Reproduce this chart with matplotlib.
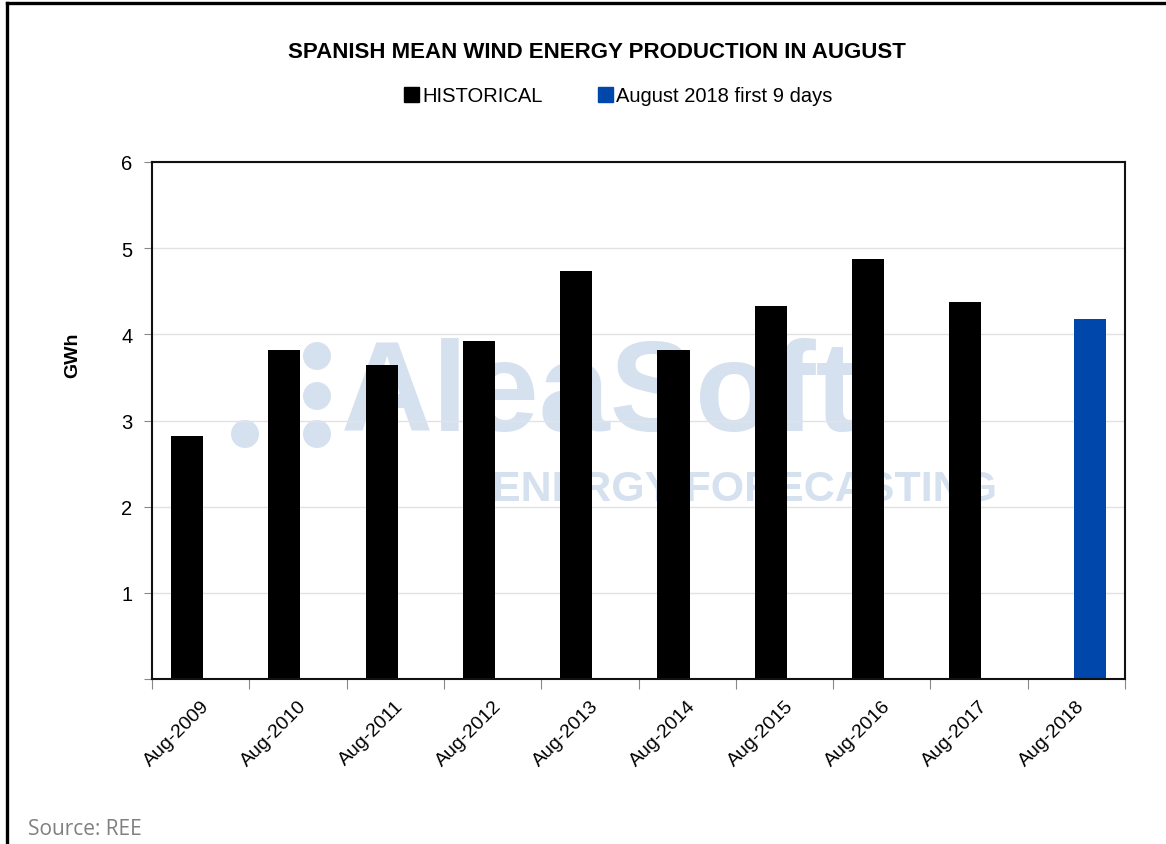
import matplotlib
matplotlib.use("Agg")
import matplotlib.pyplot as plt
from matplotlib.patches import Patch, Ellipse
from matplotlib.lines import Line2D

plt.rcParams["font.family"] = ["Liberation Sans", "DejaVu Sans"]

# data (GWh)
months = ["Aug-2009", "Aug-2010", "Aug-2011", "Aug-2012", "Aug-2013",
          "Aug-2014", "Aug-2015", "Aug-2016", "Aug-2017", "Aug-2018"]
historical = [2.82, 3.82, 3.64, 3.92, 4.73, 3.82, 4.33, 4.87, 4.38, None]
aug2018 = [None, None, None, None, None, None, None, None, None, 4.18]

C_HIST = "#000000"
C_2018 = "#0047AB"
W = 1166
H = 845

fig = plt.figure(figsize=(W / 100, H / 100), dpi=100)
ax = fig.add_axes([152 / W, 1 - 680 / H, (1125 - 152) / W, (680 - 163) / H])

# watermark behind everything
wm = "#d6e1ef"
ax.text(600 / W, 1 - 398 / H, "AleaSoft", transform=fig.transFigure,
        ha="center", va="center", fontsize=92, fontweight="bold",
        color=wm, zorder=0.2)
ax.text(745 / W, 1 - 490 / H, "ENERGY FORECASTING", transform=fig.transFigure,
        ha="center", va="center", fontsize=31, fontweight="bold",
        color=wm, zorder=0.2)
for px, py in [(317, 357), (317, 397), (317, 435), (245, 435)]:
    ax.add_patch(Ellipse((px / W, 1 - py / H), 28 / W, 28 / H,
                         transform=fig.transFigure, color=wm, lw=0,
                         zorder=0.2))

x = list(range(len(months)))
off = 0.14
bw = 0.33
xs_h = [i - off for i, v in zip(x, historical) if v is not None]
ys_h = [v for v in historical if v is not None]
xs_b = [i + off for i, v in zip(x, aug2018) if v is not None]
ys_b = [v for v in aug2018 if v is not None]
ax.bar(xs_h, ys_h, width=bw, color=C_HIST, zorder=2)
ax.bar(xs_b, ys_b, width=bw, color=C_2018, zorder=2)

ax.set_xlim(-0.5, len(months) - 0.5)
ax.set_ylim(0, 6)
ax.set_yticks(range(0, 7))
ax.set_yticklabels([""] + [str(i) for i in range(1, 7)], fontsize=14.5)
ax.tick_params(axis="y", length=6, width=0.8, color="#888888", pad=8)
ax.set_xticks(x)
ax.set_xticklabels(months, rotation=45, ha="right", rotation_mode="anchor",
                   fontsize=14)
ax.tick_params(axis="x", length=0, pad=13)
ax.set_xticks([i - 0.5 for i in range(len(months) + 1)], minor=True)
ax.tick_params(axis="x", which="minor", length=7, width=0.8, color="#888888")

ax.set_axisbelow(True)
ax.yaxis.grid(True, color="#e2e2e2", lw=1, zorder=0.5)
for s in ax.spines.values():
    s.set_linewidth(1.5)
    s.set_color("#111111")

fig.text(73 / W, 1 - 355 / H, "GWh", rotation=90, ha="center", va="center",
         fontsize=14, fontweight="bold")

fig.text(597 / W, 1 - 52 / H, "SPANISH MEAN WIND ENERGY PRODUCTION IN AUGUST",
         ha="center", va="center", fontsize=16, fontweight="bold")

handles = [Patch(facecolor=C_HIST, edgecolor=C_HIST, label="HISTORICAL"),
           Patch(facecolor=C_2018, edgecolor=C_2018,
                 label="August 2018 first 9 days")]
fig.legend(handles=handles, loc="center", ncol=2,
           bbox_to_anchor=(618 / W, 1 - 97 / H), frameon=False,
           fontsize=14.5, handlelength=0.75, handleheight=0.75,
           handletextpad=0.15, columnspacing=2.75, borderpad=0)

fig.text(28 / W, 1 - 830 / H, "Source: REE", ha="left", va="center",
         fontsize=15, color="#808080", family=["Open Sans", "DejaVu Sans"])

# outer frame (top and left only)
fig.add_artist(Line2D([7 / W, 1], [1 - 4 / H, 1 - 4 / H], color="black",
                      lw=2.4, transform=fig.transFigure))
fig.add_artist(Line2D([7 / W, 7 / W], [0, 1 - 4 / H], color="black",
                      lw=2.4, transform=fig.transFigure))

fig.savefig("out.png", dpi=100)
